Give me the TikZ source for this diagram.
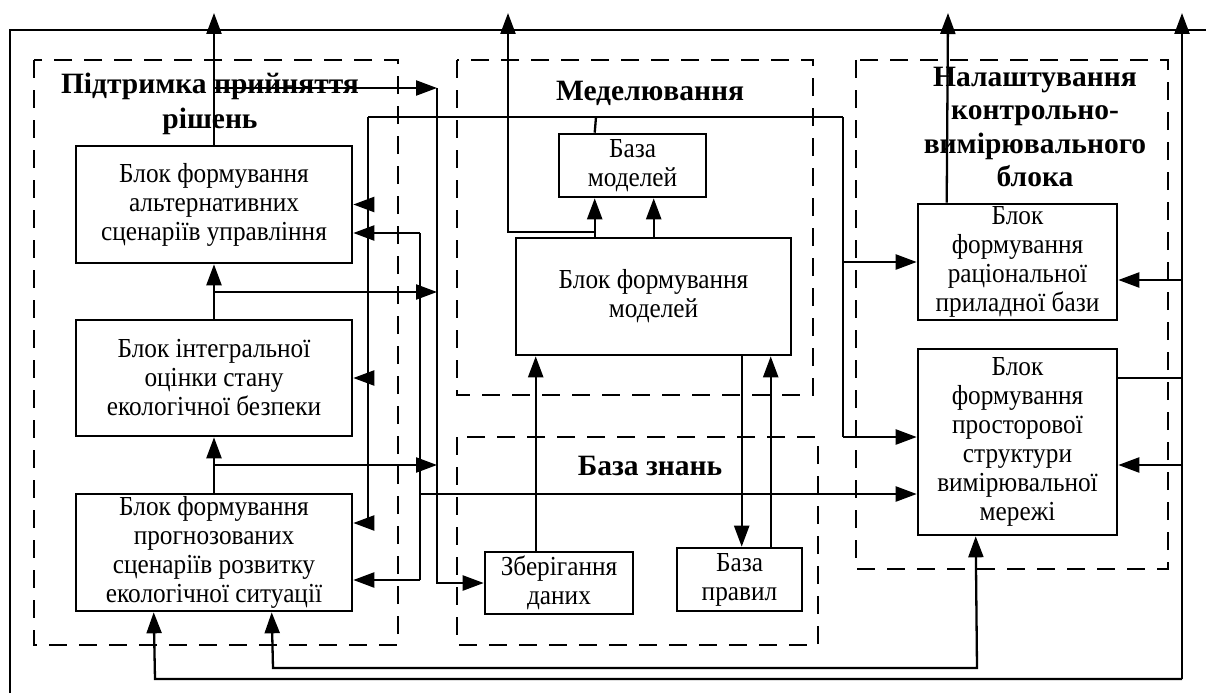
\documentclass[tikz,border=0pt]{standalone}
\usepackage{fontspec}
\setmainfont{Liberation Serif}
\newfontfamily\boxfont[FakeStretch=0.92]{Liberation Serif}
\usetikzlibrary{arrows.meta}
\tikzset{
  blk/.style={draw, line width=2.6pt, align=center, inner sep=0pt,
    font=\boxfont\fontsize{27.5}{29}\selectfont},
  grp/.style={draw, line width=2.4pt, dash pattern=on 18pt off 12pt},
  ttl/.style={align=center, inner sep=0pt, font=\bfseries\fontsize{29.5}{34}\selectfont},
  ln/.style={line width=2.3pt},
  arr/.style={ln, -{Triangle[length=21pt,width=15pt]}},
  arrb/.style={ln, {Triangle[length=21pt,width=15pt]}-{Triangle[length=21pt,width=15pt]}},
}
\begin{document}
\begin{tikzpicture}[x=1pt,y=-1pt]
\useasboundingbox (0,0) rectangle (1206,693);

% dashed groups
\draw[grp] (34,60) rectangle (398,645);
\draw[grp] (457,60) rectangle (813,395);
\draw[grp] (457,437) rectangle (818,645);
\draw[grp] (856,60) rectangle (1168,569);

% titles
\node[ttl, font=\bfseries\fontsize{29.5}{35}\selectfont] (t1) at (210,104) {Підтримка прийняття\\рішень};
\node[ttl, anchor=base] (t2) at (650,100) {Меделювання};
\node[ttl, anchor=base] (t3) at (650,475) {База знань};
\node[ttl, font=\bfseries\fontsize{29.5}{33.3}\selectfont] (t4) at (1035,127) {Налаштування\\контрольно-\\вимірювального\\блока};

% boxes
\node[blk, minimum width=276pt, minimum height=117pt] (A) at (214,204.5) {Блок формування\\альтернативних\\сценаріїв управління};
\node[blk, minimum width=276pt, minimum height=116pt] (B) at (214,378) {Блок інтегральної\\оцінки стану\\екологічної безпеки};
\node[blk, minimum width=276pt, minimum height=117pt] (C) at (214,552.5) {Блок формування\\прогнозованих\\сценаріїв розвитку\\екологічної ситуації};
\node[blk, minimum width=275pt, minimum height=117pt] (M) at (653.5,296.5) {Блок формування\\моделей};
\node[blk, minimum width=147pt, minimum height=63pt] (BM) at (632.5,165.5) {База\\моделей};
\node[blk, minimum width=148pt, minimum height=62pt] (ZD) at (559,583) {Зберігання\\даних};
\node[blk, minimum width=125pt, minimum height=63pt] (BP) at (739.5,579.5) {База\\правил};
\node[blk, minimum width=199pt, minimum height=116pt] (D) at (1017.5,262) {Блок\\формування\\раціональної\\приладної бази};
\node[blk, minimum width=199pt, minimum height=186pt] (E) at (1017.5,442) {Блок\\формування\\просторової\\структури\\вимірювальної\\мережі};

% coordinates
\coordinate (upA) at (214,13);
\coordinate (a88) at (214,88);
\coordinate (b88) at (437,88);
\coordinate (j292) at (214,292);
\coordinate (j465) at (214,465);
\coordinate (L117) at (368,117);
\coordinate (R117) at (843,117);
\coordinate (bmt) at (596,117);
\coordinate (c523) at (368,523);
\coordinate (p233) at (420,233);
\coordinate (p494) at (420,494);
\coordinate (p580) at (420,580);
\coordinate (r437) at (843,437);
\coordinate (r262) at (843,262);
\coordinate (k232) at (596,232);
\coordinate (k508) at (508,232);
\coordinate (up508) at (508,13);
\coordinate (up948) at (948,13);
\coordinate (up1182) at (1182,13);
\coordinate (r280) at (1182,280);
\coordinate (r378) at (1182,378);
\coordinate (r465) at (1182,465);
\coordinate (r679) at (1182,679);
\coordinate (c679) at (155,679);
\coordinate (c668) at (273,668);
\coordinate (e668) at (977,668);
\coordinate (f1) at (10,693);
\coordinate (f2) at (10,30);
\coordinate (f3) at (1206,30);

% outer frame
\draw[ln] (f1) -- (f2) -- (f3);

% left column
\draw[arr] (A.north) -- (upA);
\draw[arr] (a88) -- (b88);
\draw[arr] (b88) -- (b88 |- ZD.west) -- (ZD.west);
\draw[arr] (B.north) -- (A.south);
\draw[arr] (C.north) -- (B.south);
\draw[arr] (j292) -- (j292 -| b88);
\draw[arr] (j465) -- (j465 -| b88);

% bus from model base
\draw[ln] ([xshift=37pt]BM.north west) -- (bmt);
\draw[ln] (L117) -- (R117);
\draw[ln] (L117) -- (c523);
\draw[arr] (A.east -| L117) -- (A.east);
\draw[arr] (B.east -| L117) -- (B.east);
\draw[arr] (c523) -- (c523 -| C.east);
\draw[ln] (R117) -- (r437);
\draw[arr] (r262) -- (D.west);
\draw[arr] (r437) -- (r437 -| E.west);

% bus x=420
\draw[arr] (p233) -- (p233 -| A.east);
\draw[ln] (p233) -- (p580);
\draw[arr] (p580) -- (p580 -| C.east);
\draw[arr] (p494) -- (p494 -| E.west);

% modelling
\draw[arr] ([xshift=80pt]M.north west) -- ([xshift=37pt]BM.south west);
\draw[arr] ([xshift=139pt]M.north west) -- ([xshift=96pt]BM.south west);
\draw[arr] (k232) -- (k508) -- (up508);
\draw[arr] ([xshift=52pt]ZD.north west) -- ([xshift=21pt]M.south west);
\draw[arr] ([xshift=227pt]M.south west) -- ([xshift=66pt]BP.north west);
\draw[arr] ([xshift=95pt]BP.north west) -- ([xshift=256pt]M.south west);

% right
\draw[arr] ([xshift=30pt]D.north west) -- (up948);
\draw[arr] (r679) -- (up1182);
\draw[arr] (r679) -- (c679) -- ([xshift=79pt]C.south west);
\draw[arr] (r280) -- (r280 -| D.east);
\draw[arr] (r465) -- (r465 -| E.east);
\draw[ln] (r378 -| E.east) -- (r378);
\draw[arrb] ([xshift=197pt]C.south west) -- (c668) -- (e668) -- ([xshift=59pt]E.south west);
\end{tikzpicture}
\end{document}
